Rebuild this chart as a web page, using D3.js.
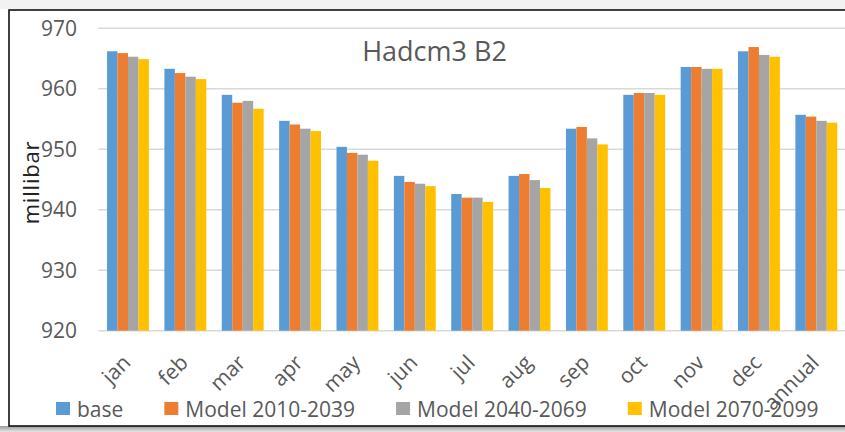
<!DOCTYPE html>
<html>
<head>
<meta charset="utf-8">
<script src="https://cdn.jsdelivr.net/npm/d3@7"></script>
<style>
  body { margin: 0; background: #fff; }
  svg { display: block; }
</style>
</head>
<body>
<div id="chart"></div>
<script>
// monthly pressure, millibar
const months = ["jan", "feb", "mar", "apr", "may", "jun", "jul", "aug", "sep", "oct", "nov", "dec", "annual"];
const seriesNames = ["base", "Model 2010-2039", "Model 2040-2069", "Model 2070-2099"];
const base      = [966.2, 963.3, 959.0, 954.7, 950.4, 945.6, 942.6, 945.6, 953.4, 959.0, 963.6, 966.2, 955.7];
const model2010 = [965.9, 962.6, 957.7, 954.1, 949.4, 944.6, 942.0, 945.9, 953.7, 959.3, 963.6, 966.9, 955.4];
const model2040 = [965.3, 962.0, 958.0, 953.4, 949.1, 944.3, 942.0, 944.9, 951.8, 959.3, 963.3, 965.6, 954.7];
const model2070 = [964.9, 961.6, 956.7, 953.0, 948.1, 943.9, 941.3, 943.6, 950.8, 959.0, 963.3, 965.3, 954.4];
const yTicks = [920, 930, 940, 950, 960, 970];
const title = "Hadcm3 B2";
const yLabel = "millibar";

const colors = ["#5b9bd5", "#ed7d31", "#a5a5a5", "#ffc000"];
const allSeries = [base, model2010, model2040, model2070];

const width = 845, height = 432;
const margin = {top: 28.3, right: 0, bottom: 101.3, left: 99.3};
const font = "'Open Sans', sans-serif";
const textColor = "#595959";

const svg = d3.select("#chart").append("svg")
  .attr("width", width)
  .attr("height", height);

// chart frame + shadow
const shade = svg.append("defs").append("linearGradient")
  .attr("id", "shade").attr("x1", 0).attr("y1", 0).attr("x2", 0).attr("y2", 1);
shade.append("stop").attr("offset", 0).attr("stop-color", "#9a9a9a");
shade.append("stop").attr("offset", 1).attr("stop-color", "#e6e6e6");

svg.append("rect")
  .attr("x", 0).attr("y", 426).attr("width", width).attr("height", 6)
  .attr("fill", "url(#shade)");
svg.append("rect")
  .attr("x", 0).attr("y", 0).attr("width", width).attr("height", 9)
  .attr("fill", "#f2f2f2");
svg.append("rect")
  .attr("x", 9).attr("y", 10)
  .attr("width", width + 20).attr("height", 416)
  .attr("fill", "#fff")
  .attr("stroke", "#111")
  .attr("stroke-width", 1.6);

const x0 = d3.scaleBand()
  .domain(months)
  .range([margin.left, width - margin.right])
  .paddingInner(0.27)
  .paddingOuter(0.135);

const x1 = d3.scaleBand()
  .domain(d3.range(seriesNames.length))
  .range([0, x0.bandwidth()]);

const y = d3.scaleLinear()
  .domain([920, 970])
  .range([height - margin.bottom, margin.top]);

// gridlines
svg.append("g")
  .selectAll("line")
  .data(yTicks)
  .join("line")
    .attr("x1", margin.left - 1)
    .attr("x2", width)
    .attr("y1", d => y(d))
    .attr("y2", d => y(d))
    .attr("stroke", "#d9d9d9")
    .attr("stroke-width", 1.5);

// y tick labels
svg.append("g")
  .attr("font-family", font)
  .attr("font-size", 21)
  .attr("fill", textColor)
  .selectAll("text")
  .data(yTicks)
  .join("text")
    .attr("x", 77)
    .attr("y", d => y(d))
    .attr("dy", "0.36em")
    .attr("text-anchor", "end")
    .text(d => d);

// bars
const rows = months.map((m, i) => ({month: m, values: allSeries.map(s => s[i])}));

svg.append("g")
  .selectAll("g")
  .data(rows)
  .join("g")
    .attr("transform", d => `translate(${x0(d.month)},0)`)
  .selectAll("rect")
  .data(d => d.values.map((v, k) => ({k, v})))
  .join("rect")
    .attr("x", d => x1(d.k))
    .attr("y", d => y(d.v))
    .attr("width", x1.bandwidth())
    .attr("height", d => y(920) - y(d.v))
    .attr("fill", d => colors[d.k]);

// x labels, rotated
svg.append("g")
  .attr("font-family", font)
  .attr("font-size", 21)
  .attr("fill", textColor)
  .selectAll("text")
  .data(months)
  .join("text")
    .attr("text-anchor", "end")
    .attr("transform", d => `translate(${x0(d) + x0.bandwidth() / 2 + 4},364) rotate(-45)`)
    .text(d => d);

// title
svg.append("text")
  .attr("x", 434.5)
  .attr("y", 60.5)
  .attr("text-anchor", "middle")
  .attr("font-family", font)
  .attr("font-size", 27)
  .attr("fill", textColor)
  .text(title);

// y axis title
svg.append("text")
  .attr("transform", `translate(39,${(y(920) + y(970)) / 2 + 3}) rotate(-90)`)
  .attr("text-anchor", "middle")
  .attr("font-family", font)
  .attr("font-size", 22)
  .attr("letter-spacing", 0.8)
  .attr("fill", "#222")
  .text(yLabel);

// legend
const legend = svg.append("g")
  .attr("font-family", font)
  .attr("font-size", 21)
  .attr("fill", textColor);

let lx = 56;
seriesNames.forEach((name, k) => {
  const item = legend.append("g").attr("transform", `translate(${lx},0)`);
  item.append("rect")
    .attr("x", 0).attr("y", 402)
    .attr("width", 14).attr("height", 13)
    .attr("fill", colors[k]);
  const t = item.append("text")
    .attr("x", 21)
    .attr("y", 417)
    .text(name);
  lx += 21 + t.node().getComputedTextLength() + 41;
});
</script>
</body>
</html>
